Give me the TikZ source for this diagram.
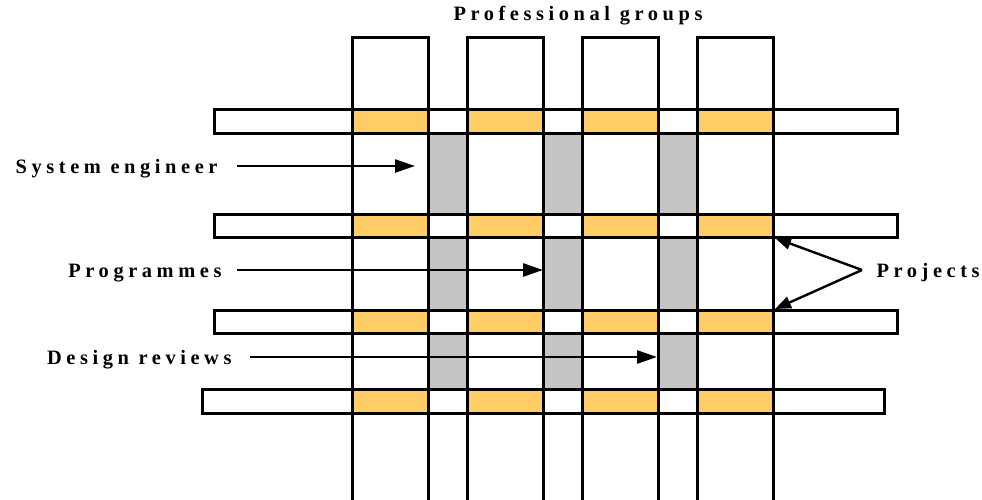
\documentclass[tikz,border=0pt]{standalone}
\usepackage{fontspec}
\setmainfont{Liberation Serif}
\usetikzlibrary{arrows.meta}
\definecolor{cellorange}{HTML}{FFCC66}
\definecolor{cellgray}{RGB}{196,196,196}
\tikzset{
  lbl/.style={inner ysep=0pt, text height=15pt, text depth=0pt,
    font=\bfseries\fontsize{20.4}{22}\selectfont\addfontfeature{LetterSpace=22.5}},
  arr/.style={line width=2.8pt, -{Triangle[length=20pt,width=13pt]}},
}
\begin{document}
\begin{tikzpicture}[x=1pt,y=-1pt,line width=3pt]
\useasboundingbox (0,0) rectangle (982,500);
% project bars
\fill[white] (214,110) rectangle (897,134);
\fill[white] (214,214) rectangle (897,237);
\fill[white] (214,310) rectangle (897,333);
\fill[white] (202,389) rectangle (884,413);
\foreach \xa/\xb in {352/428,467/543,582/658,697/773}
  \foreach \ya/\yb in {110/134,214/237,310/333,389/413}
    \fill[cellorange] (\xa,\ya) rectangle (\xb,\yb);
% system engineers between the groups
\foreach \xa/\xb in {428/467,543/582,658/697}
  \foreach \ya/\yb in {134/214,237/310,333/389}
    \fill[cellgray] (\xa,\ya) rectangle (\xb,\yb);
% professional groups
\foreach \xa/\xb in {352/428,467/543,582/658,697/773}
  \draw (\xa,502) |- (\xb,38) -- (\xb,502);
\draw (214,110) rectangle (897,134);
\draw (214,214) rectangle (897,237);
\draw (214,310) rectangle (897,333);
\draw (202,389) rectangle (884,413);
% labels
\node[lbl,anchor=base] (groups) at (578,21) {Professional groups};
\node[lbl,anchor=east,inner xsep=18pt] (syseng) at (237,166) {System engineer};
\node[lbl,anchor=east,inner xsep=14pt] (progs) at (237,270) {Programmes};
\node[lbl,anchor=east,inner xsep=17pt] (reviews) at (250,357) {Design reviews};
\node[lbl,anchor=west,inner xsep=13pt] (projects) at (862,270) {Projects};
\coordinate (syseng-tip) at (415,166);
\coordinate (progs-tip) at (543,270);
\coordinate (reviews-tip) at (657,357);
\coordinate (proj-top) at (775,238);
\coordinate (proj-bot) at (775,309);
\draw[arr,line width=2.4pt] (syseng.east) -- (syseng-tip);
\draw[arr] (progs.east) -- (progs-tip);
\draw[arr] (reviews.east) -- (reviews-tip);
\draw[line width=2.4pt,-{Triangle[length=16pt,width=12pt]}] (projects.west) -- (proj-top);
\draw[line width=2.4pt,-{Triangle[length=16pt,width=12pt]}] (projects.west) -- (proj-bot);
\end{tikzpicture}
\end{document}
